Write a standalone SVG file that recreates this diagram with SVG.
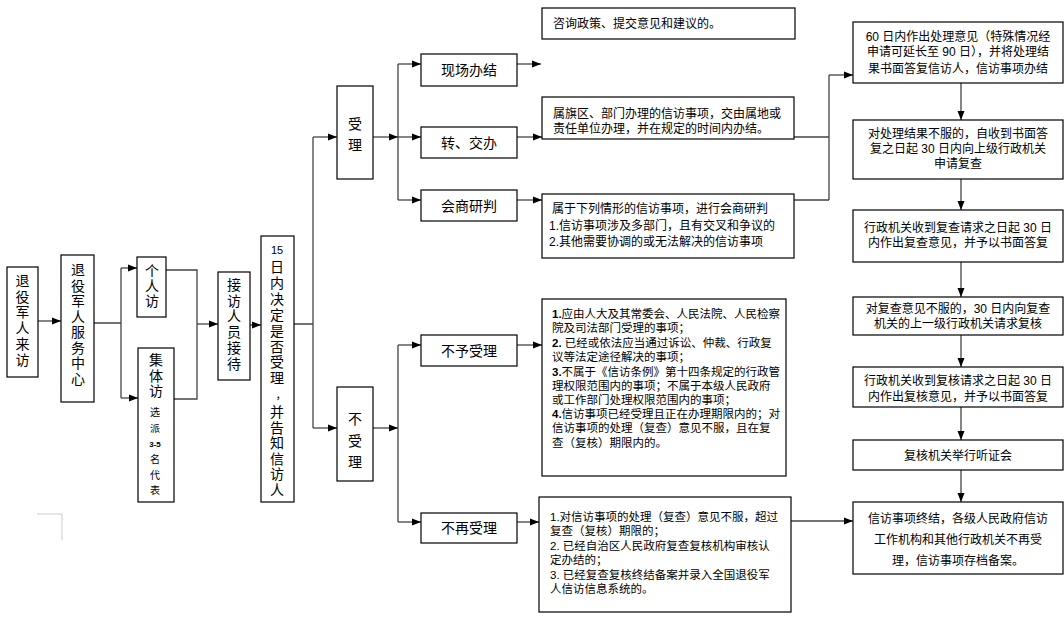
<svg xmlns="http://www.w3.org/2000/svg" width="1064" height="618" viewBox="0 0 1064 618">
<style>
.b{fill:#fff;stroke:#000;stroke-width:1.2}
.t{font-family:"Liberation Sans","Noto Sans CJK SC",sans-serif;fill:#000}
.v{font-size:14px;text-anchor:middle}
.m{font-size:14px;text-anchor:middle}
.s{font-size:12px}
.r{font-size:12px;text-anchor:middle}
.n{font-size:11.5px}
.c{fill:none;stroke:#444;stroke-width:1.3}
.a{marker-end:url(#ar)}
</style>
<defs>
<marker id="ar" markerWidth="9" markerHeight="8" refX="9" refY="4" orient="auto" markerUnits="userSpaceOnUse"><path d="M0,0.5 L9,4 L0,7.5z" fill="#000"/></marker>
</defs>
<rect width="1064" height="618" fill="#fff"/>
<g id="connectors">
<path class="c a" d="M38,321 H61"/>
<path class="c" d="M94,323 H121 M121,268 V398"/>
<path class="c a" d="M121,268 H137"/>
<path class="c a" d="M121,398 H138"/>
<path class="c" d="M166,270 H197 V399 H174"/>
<path class="c a" d="M197,324 H218"/>
<path class="c a" d="M250,325 H261"/>
<path class="c" d="M294,324 H313 M313,137 V428"/>
<path class="c a" d="M313,137 H337"/>
<path class="c a" d="M313,428 H337"/>
<path class="c" d="M398,64 V200 M398,345 V522"/>
<path class="c a" d="M373,137 H398"/>
<path class="c a" d="M373,428 H398"/>
<path class="c a" d="M398,64 H421"/>
<path class="c a" d="M398,137 H421"/>
<path class="c a" d="M398,200 H421"/>
<path class="c a" d="M398,345 H421"/>
<path class="c a" d="M398,522 H421"/>
<path class="c a" d="M517,64 H541"/>
<path class="c a" d="M517,137 H542"/>
<path class="c a" d="M517,200 H542"/>
<path class="c a" d="M517,345 H542"/>
<path class="c a" d="M517,522 H539"/>
<path class="c" d="M794,137 H829 M794,200 H829 M829,200 V75"/>
<path class="c a" d="M829,75 H853"/>
<path class="c a" d="M791,521 H853"/>
<path class="c a" d="M961,83 V120"/>
<path class="c a" d="M961,179 V210"/>
<path class="c a" d="M961,262 V297"/>
<path class="c a" d="M961,335 V367"/>
<path class="c a" d="M961,407 V440"/>
<path class="c a" d="M961,470 V502"/>
<path d="M37,514 H62 V540" fill="none" stroke="#ccc" stroke-width="1"/>
</g>
<g id="n_laifang"><rect class="b" x="7" y="267" width="31" height="110"/>
<text class="t v" x="22.5" y="286"><tspan x="22.5">退</tspan><tspan x="22.5" dy="15.7">役</tspan><tspan x="22.5" dy="15.7">军</tspan><tspan x="22.5" dy="15.7">人</tspan><tspan x="22.5" dy="15.7">来</tspan><tspan x="22.5" dy="15.7">访</tspan></text></g>
<g id="n_center"><rect class="b" x="61" y="255" width="33" height="147"/>
<text class="t v" x="78" y="275"><tspan x="78">退</tspan><tspan x="78" dy="15.5">役</tspan><tspan x="78" dy="15.5">军</tspan><tspan x="78" dy="15.5">人</tspan><tspan x="78" dy="15.5">服</tspan><tspan x="78" dy="15.5">务</tspan><tspan x="78" dy="15.5">中</tspan><tspan x="78" dy="15.5">心</tspan></text></g>
<g id="n_geren"><rect class="b" x="137" y="257" width="29" height="60"/>
<text class="t v" x="152" y="276"><tspan x="152">个</tspan><tspan x="152" dy="15">人</tspan><tspan x="152" dy="15">访</tspan></text></g>
<g id="n_jiti"><rect class="b" x="138" y="348" width="36" height="154"/>
<text class="t v" x="156" y="365"><tspan x="156">集</tspan><tspan x="156" dy="15.7">体</tspan><tspan x="156" dy="15.7">访</tspan></text>
<text class="t" x="155" y="416" style="font-size:10px;text-anchor:middle"><tspan x="155">选</tspan><tspan x="155" dy="15.5">派</tspan><tspan x="155" dy="15.5" style="font-size:8px;font-weight:bold">3-5</tspan><tspan x="155" dy="15.5">名</tspan><tspan x="155" dy="16">代</tspan><tspan x="155" dy="15.5">表</tspan></text></g>
<g id="n_jiedai"><rect class="b" x="218" y="272" width="32" height="108"/>
<text class="t v" x="234" y="290"><tspan x="234">接</tspan><tspan x="234" dy="15.7">访</tspan><tspan x="234" dy="15.7">人</tspan><tspan x="234" dy="15.7">员</tspan><tspan x="234" dy="15.7">接</tspan><tspan x="234" dy="15.7">待</tspan></text></g>
<g id="n_15ri"><rect class="b" x="261" y="236" width="33" height="266"/>
<text class="t" x="277" y="254" style="font-size:11px;text-anchor:middle">15</text>
<text class="t v" x="277" y="272"><tspan x="277">日</tspan><tspan x="277" dy="15.9">内</tspan><tspan x="277" dy="15.9">决</tspan><tspan x="277" dy="15.9">定</tspan><tspan x="277" dy="15.9">是</tspan><tspan x="277" dy="15.9">否</tspan><tspan x="277" dy="15.9">受</tspan><tspan x="277" dy="15.9">理</tspan></text>
<text class="t" x="281" y="399" style="font-size:11px;text-anchor:middle">，</text>
<text class="t v" x="277" y="417"><tspan x="277">并</tspan><tspan x="277" dy="15.5">告</tspan><tspan x="277" dy="15.5">知</tspan><tspan x="277" dy="15.5">信</tspan><tspan x="277" dy="15.5">访</tspan><tspan x="277" dy="15.5">人</tspan></text></g>
<g id="n_shouli"><rect class="b" x="337" y="86" width="36" height="93"/>
<text class="t v" x="355" y="129"><tspan x="355">受</tspan><tspan x="355" dy="21">理</tspan></text></g>
<g id="n_bushouli"><rect class="b" x="337" y="387" width="36" height="94"/>
<text class="t v" x="355" y="424"><tspan x="355">不</tspan><tspan x="355" dy="22">受</tspan><tspan x="355" dy="21">理</tspan></text></g>
<g id="n_xianchang"><rect class="b" x="421" y="54" width="96" height="32"/><text class="t m" x="469" y="75">现场办结</text></g>
<g id="n_zhuan"><rect class="b" x="421" y="127" width="96" height="31"/><text class="t m" x="469" y="148">转、交办</text></g>
<g id="n_huishang"><rect class="b" x="421" y="190" width="96" height="31"/><text class="t m" x="469" y="211">会商研判</text></g>
<g id="n_buyu"><rect class="b" x="421" y="335" width="96" height="31"/><text class="t m" x="469" y="356">不予受理</text></g>
<g id="n_buzai"><rect class="b" x="421" y="513" width="96" height="30"/><text class="t m" x="469" y="533">不再受理</text></g>
<g id="n_zixun"><rect class="b" x="542" y="8" width="253" height="31"/><text class="t s" x="553" y="28">咨询政策、提交意见和建议的。</text></g>
<g id="n_shuqi"><rect class="b" x="542" y="97" width="252" height="42"/>
<text class="t s" x="553" y="118">属旗区、部门办理的信访事项，交由属地或</text>
<text class="t s" x="553" y="133">责任单位办理，并在规定的时间内办结。</text></g>
<g id="n_shuyu"><rect class="b" x="542" y="194" width="252" height="64"/>
<text class="t s" x="552" y="213">属于下列情形的信访事项，进行会商研判</text>
<text class="t s" x="549" y="230">1.信访事项涉及多部门，且有交叉和争议的</text>
<text class="t s" x="549" y="246">2.其他需要协调的或无法解决的信访事项</text></g>
<g id="n_buyu_txt"><rect class="b" x="542" y="299" width="244" height="177"/>
<text class="t n" x="552" y="318"><tspan font-weight="bold">1.</tspan>应由人大及其常委会、人民法院、人民检察</text>
<text class="t n" x="552" y="332">院及司法部门受理的事项；</text>
<text class="t n" x="552" y="347"><tspan font-weight="bold">2.</tspan> 已经或依法应当通过诉讼、仲裁、行政复</text>
<text class="t n" x="552" y="361">议等法定途径解决的事项；</text>
<text class="t n" x="552" y="376"><tspan font-weight="bold">3.</tspan>不属于《信访条例》第十四条规定的行政管</text>
<text class="t n" x="552" y="390">理权限范围内的事项；不属于本级人民政府</text>
<text class="t n" x="552" y="404">或工作部门处理权限范围内的事项；</text>
<text class="t n" x="552" y="418"><tspan font-weight="bold">4.</tspan>信访事项已经受理且正在办理期限内的；对</text>
<text class="t n" x="552" y="432">信访事项的处理（复查）意见不服，且在复</text>
<text class="t n" x="552" y="447">查（复核）期限内的。</text></g>
<g id="n_buzai_txt"><rect class="b" x="539" y="497" width="252" height="115"/>
<text class="t n" x="550" y="521">1.对信访事项的处理（复查）意见不服，超过</text>
<text class="t n" x="550" y="535">复查（复核）期限的；</text>
<text class="t n" x="550" y="550">2. 已经自治区人民政府复查复核机构审核认</text>
<text class="t n" x="550" y="564">定办结的；</text>
<text class="t n" x="550" y="579">3. 已经复查复核终结备案并录入全国退役军</text>
<text class="t n" x="550" y="593">人信访信息系统的。</text></g>
<g id="n_r1"><rect class="b" x="853" y="22" width="210" height="61"/>
<text class="t r" x="958" y="41">60 日内作出处理意见（特殊情况经</text>
<text class="t r" x="958" y="56">申请可延长至 90 日），并将处理结</text>
<text class="t r" x="958" y="73">果书面答复信访人，信访事项办结</text></g>
<g id="n_r2"><rect class="b" x="853" y="120" width="210" height="59"/>
<text class="t r" x="958" y="138">对处理结果不服的，自收到书面答</text>
<text class="t r" x="958" y="153">复之日起 30 日内向上级行政机关</text>
<text class="t r" x="958" y="168">申请复查</text></g>
<g id="n_r3"><rect class="b" x="853" y="210" width="210" height="52"/>
<text class="t r" x="958" y="232">行政机关收到复查请求之日起 30 日</text>
<text class="t r" x="958" y="247">内作出复查意见，并予以书面答复</text></g>
<g id="n_r4"><rect class="b" x="853" y="297" width="210" height="38"/>
<text class="t r" x="958" y="313">对复查意见不服的，30 日内向复查</text>
<text class="t r" x="958" y="328">机关的上一级行政机关请求复核</text></g>
<g id="n_r5"><rect class="b" x="853" y="367" width="210" height="40"/>
<text class="t r" x="958" y="385">行政机关收到复核请求之日起 30 日</text>
<text class="t r" x="958" y="401">内作出复核意见，并予以书面答复</text></g>
<g id="n_r6"><rect class="b" x="853" y="440" width="210" height="30"/>
<text class="t r" x="958" y="460">复核机关举行听证会</text></g>
<g id="n_r7"><rect class="b" x="853" y="502" width="210" height="72"/>
<text class="t r" x="958" y="523">信访事项终结，各级人民政府信访</text>
<text class="t r" x="958" y="544">工作机构和其他行政机关不再受</text>
<text class="t r" x="958" y="565">理，信访事项存档备案。</text></g>
</svg>
